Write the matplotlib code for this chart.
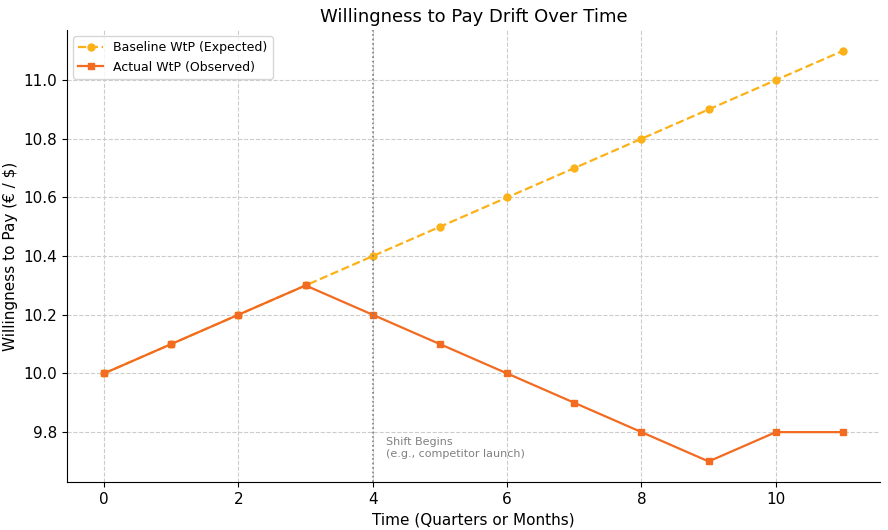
import matplotlib
matplotlib.use("Agg")
import matplotlib.pyplot as plt

# data
periods = list(range(12))
baseline_wtp = [10.0, 10.1, 10.2, 10.3, 10.4, 10.5, 10.6, 10.7, 10.8, 10.9, 11.0, 11.1]
actual_wtp = [10.0, 10.1, 10.2, 10.3, 10.2, 10.1, 10.0, 9.9, 9.8, 9.7, 9.8, 9.8]
shift_at = 4

fig = plt.figure(figsize=(8.88, 5.30), dpi=100)
ax = fig.add_axes([0.0755, 0.0906, 0.9155, 0.8524])

ax.plot(periods, baseline_wtp, linestyle='--', marker='o', markersize=5,
        color='#FBB117', linewidth=1.6, label='Baseline WtP (Expected)')
ax.plot(periods, actual_wtp, linestyle='-', marker='s', markersize=5,
        color='#F26B21', linewidth=1.6, label='Actual WtP (Observed)')

ax.axvline(shift_at, color='gray', linestyle=':', linewidth=1.2)
ax.text(shift_at + 0.2, 9.71, 'Shift Begins\n(e.g., competitor launch)',
        color='gray', fontsize=8, ha='left', va='bottom')

ax.set_title('Willingness to Pay Drift Over Time', fontsize=13)
ax.set_xlabel('Time (Quarters or Months)', fontsize=11)
ax.set_ylabel('Willingness to Pay (€ / $)', fontsize=11)
ax.tick_params(labelsize=11)

ax.grid(True, linestyle='--', color='#cccccc', linewidth=0.8)
ax.spines['top'].set_visible(False)
ax.spines['right'].set_visible(False)
ax.legend(loc='upper left', fontsize=9)

fig.savefig('out.png', dpi=100)
